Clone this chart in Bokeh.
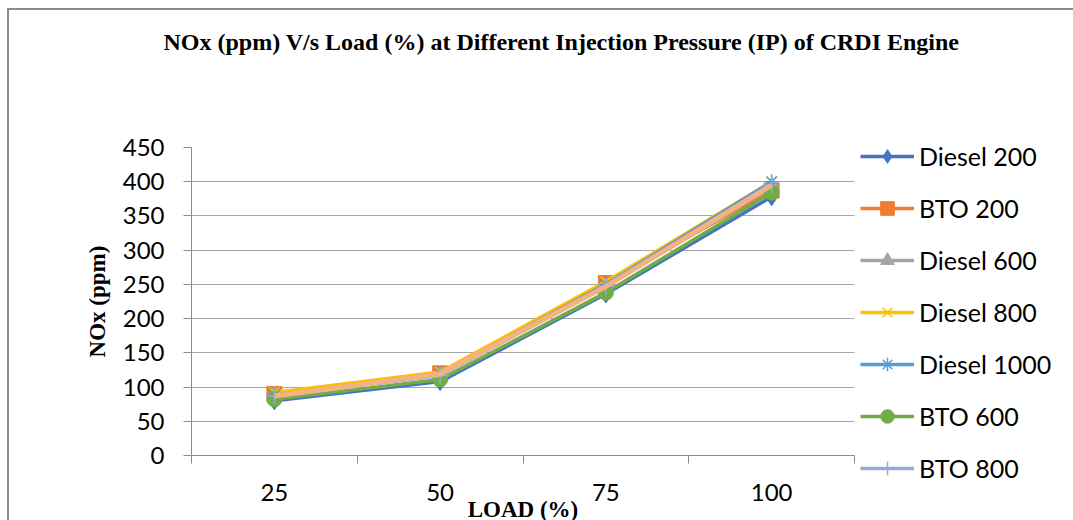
from bokeh.plotting import figure
from bokeh.models import FixedTicker, Legend, LegendItem, Title
from bokeh.embed import file_html
from bokeh.resources import INLINE

# Engine load categories (%) and tick values for NOx (ppm)
loads = ["25", "50", "75", "100"]
y_ticks = [0, 50, 100, 150, 200, 250, 300, 350, 400, 450]

# NOx emissions (ppm) for each fuel / injection pressure (bar)
diesel_200 = [80, 108, 236, 378]
bto_200 = [90, 120, 252, 387]
diesel_600 = [88, 117, 247, 392]
diesel_800 = [92, 122, 254, 400]
diesel_1000 = [88, 119, 250, 400]
bto_600 = [82, 111, 238, 384]
bto_800 = [87, 117, 247, 395]
bto_1000 = [87, 119, 247, 395]

xs = list(range(1, len(loads) + 1))
bounds = [x - 0.5 for x in xs] + [xs[-1] + 0.5]

p = figure(frame_width=663, frame_height=308, title=None,
           x_range=(0.5, len(loads) + 0.5), y_range=(0, 450),
           output_backend="svg", toolbar_location=None,
           min_border_left=191, min_border_right=219, min_border_top=147,
           min_border_bottom=65)

# thin grey chart-area border drawn behind the transparent canvas border
edge = "#8c8c8c"
p.styles = {
    "background": (f"linear-gradient({edge},{edge}) 7px 8px / 1100px 2px no-repeat, "
                   f"linear-gradient({edge},{edge}) 7px 8px / 2px 600px no-repeat, white"),
}
p.border_fill_color = None
p.background_fill_color = "white"
p.outline_line_color = None

serif = "Liberation Serif"

# empty band between the plot frame and the chart title
p.add_layout(Title(text=" ", text_font_size="10px", standoff=80), "above")
p.add_layout(Title(text="NOx (ppm) V/s Load (%) at Different Injection Pressure (IP)  of CRDI Engine",
                   text_font=serif, text_font_style="bold", text_font_size="24px",
                   text_color="black", align="left", vertical_align="bottom",
                   offset=-28, standoff=0), "above")

# grid
p.xgrid.grid_line_color = None
p.ygrid.grid_line_color = "#a6a6a6"
p.ygrid.grid_line_width = 1.2

axis_color = "#8c8c8c"

# x axis: labels at category centres, tick marks on the boundaries
xa = p.xaxis[0]
xa.ticker = FixedTicker(ticks=xs, minor_ticks=bounds)
xa.major_label_overrides = {x: lab for x, lab in zip(xs, loads)}
xa.axis_line_color = axis_color
xa.major_tick_line_color = None
xa.major_tick_out = 0
xa.major_tick_in = 0
xa.minor_tick_line_color = axis_color
xa.minor_tick_out = 8
xa.minor_tick_in = 0
xa.major_label_standoff = 20
xa.major_label_text_font = "Lato"
xa.major_label_text_font_size = "24px"
xa.major_label_text_color = "black"

# x axis title, tucked up against the tick labels
p.add_layout(Title(text="LOAD (%)", text_font=serif, text_font_style="bold",
                   text_font_size="23px", text_color="black", align="center",
                   vertical_align="top", standoff=-14), "below")

ya = p.yaxis[0]
ya.ticker = FixedTicker(ticks=y_ticks)
ya.axis_line_color = axis_color
ya.major_tick_line_color = axis_color
ya.major_tick_out = 8
ya.major_tick_in = 0
ya.minor_tick_line_color = None
ya.major_label_standoff = 19
ya.major_label_text_font = "Lato"
ya.major_label_text_font_size = "24px"
ya.major_label_text_color = "black"
ya.axis_label = "NOx (ppm)"
ya.axis_label_text_font = serif
ya.axis_label_text_font_style = "bold"
ya.axis_label_text_font_size = "23px"
ya.axis_label_text_color = "black"
ya.axis_label_standoff = 10

series = [
    ("Diesel 200", diesel_200, "#4472c4", "diamond", 18),
    ("BTO 200", bto_200, "#ed7d31", "square", 15),
    ("Diesel 600", diesel_600, "#a5a5a5", "triangle", 16),
    ("Diesel 800", diesel_800, "#ffc000", "x", 15),
    ("Diesel 1000", diesel_1000, "#5b9bd5", "asterisk", 15),
    ("BTO 600", bto_600, "#70ad47", "circle", 15),
    ("BTO 800", bto_800, "#8faadc", "cross", 17),
]

items = []
for name, vals, color, marker, size in series:
    ln = p.line(xs, vals, line_color=color, line_width=3.5)
    line_markers = marker in ("x", "asterisk", "cross")
    sc = p.scatter(xs, vals, marker=marker, size=size,
                   fill_color=color, line_color=color,
                   line_width=1.5 if line_markers else 1)
    items.append(LegendItem(label=name, renderers=[ln, sc]))

# BTO 1000 drawn on top
p.line(xs, bto_1000, line_color="#f4b183", line_width=5)

legend = Legend(items=items, location=(6, -30), ncols=1, glyph_width=54, glyph_height=34,
                label_height=34, spacing=18, padding=0, margin=0,
                label_standoff=5, border_line_color=None, background_fill_alpha=0,
                label_text_font="Lato", label_text_font_size="25px",
                label_text_color="black")
p.add_layout(legend, "right")

open("out.html", "w").write(file_html(p, INLINE))
